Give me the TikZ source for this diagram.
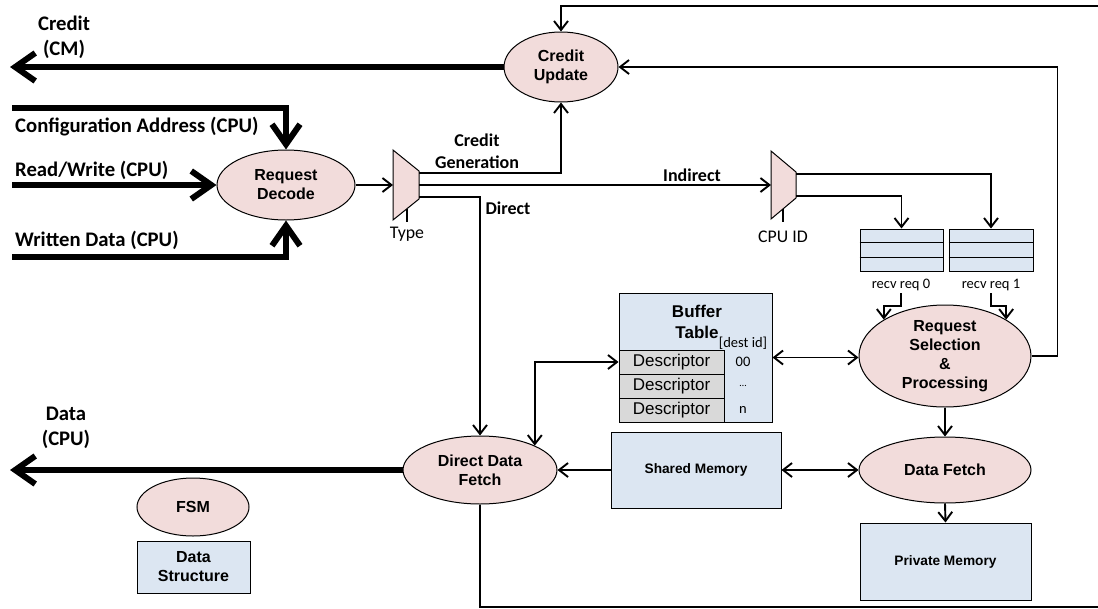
\documentclass[tikz,border=0pt]{standalone}
\usepackage{fontspec}
\setmainfont{Liberation Sans}
\newfontfamily\calfont{Carlito}
\usetikzlibrary{arrows.meta,shapes.geometric,calc}
\definecolor{pinkf}{RGB}{242,220,219}
\definecolor{bluef}{RGB}{220,230,242}
\definecolor{grayf}{RGB}{217,217,217}
\begin{document}
\begin{tikzpicture}[x=1pt,y=-1pt,
 ell/.style={ellipse,draw,fill=pinkf,line width=1pt,inner sep=0pt},
 box/.style={rectangle,draw,fill=bluef,line width=1pt,inner sep=0pt},
 ntext/.style={font=\fontsize{16}{19}\selectfont\bfseries,align=center,inner sep=0pt},
 memtext/.style={font=\fontsize{13.7}{16}\selectfont\bfseries,inner sep=0pt},
 cbl/.style={font=\calfont\fontsize{20.7}{25}\selectfont\bfseries,align=center,inner sep=0pt},
 cmid/.style={font=\calfont\fontsize{18}{22}\selectfont\bfseries,align=center,inner sep=0pt},
 creg/.style={font=\calfont\fontsize{17.8}{20}\selectfont,inner sep=0pt},
 csm/.style={font=\calfont\fontsize{14.5}{17}\selectfont,inner sep=0pt},
 conn/.style={line width=1.9pt,-{Straight Barb[length=9pt,width=14pt]}},
 wire/.style={line width=1.9pt},
 dconn/.style={line width=1.9pt,{Straight Barb[length=9pt,width=14pt]}-{Straight Barb[length=9pt,width=14pt]}},
 fat/.style={line width=6pt,-{Straight Barb[length=20pt,width=28pt]}},
 mux/.style={draw,fill=pinkf,line width=1pt,line join=miter},
 desc/.style={rectangle,draw,fill=grayf,line width=1pt,minimum width=105pt,minimum height=24pt,inner sep=0pt,font=\fontsize{17}{20}\selectfont},
]
\useasboundingbox (0,0) rectangle (1098,608);

% ---------- ellipses ----------
\node[ell,minimum width=114pt,minimum height=70pt] (cu) at (561,67) {};
\node[ntext] (cut) at (cu) {Credit\\Update};
\node[ell,minimum width=138pt,minimum height=70pt] (rd) at (286,185) {};
\node[ntext] (rdt) at (rd) {Request\\Decode};
\node[ell,minimum width=172pt,minimum height=102pt] (rs) at (945,356) {};
\node[ntext] (rst) at (rs) {Request\\Selection\\\&\\Processing};
\node[ell,minimum width=172pt,minimum height=66pt] (df) at (945,470) {};
\node[ntext] (dft) at (df) {Data Fetch};
\node[ell,minimum width=154pt,minimum height=68pt] (ddf) at (480,470) {};
\node[ntext] (ddft) at (ddf) {Direct Data\\Fetch};
\node[ell,minimum width=112pt,minimum height=58pt] (fsm) at (193,507) {};
\node[ntext] (fsmt) at (fsm) {FSM};

% ---------- boxes ----------
\node[box,minimum width=113pt,minimum height=52pt] (ds) at (193.5,567) {};
\node[ntext] (dst) at (ds) {Data\\Structure};
\node[box,minimum width=170pt,minimum height=76pt] (sm) at (696,470) {};
\node[memtext] (smt) at (sm) {Shared Memory};
\node[box,minimum width=171pt,minimum height=77pt] (pm) at (945.5,561.5) {};
\node[memtext] (pmt) at (pm) {Private Memory};

% buffer table
\node[box,minimum width=153pt,minimum height=129pt] (bt) at (695.5,357.5) {};
\node[font=\fontsize{17}{20}\selectfont\bfseries,inner sep=0pt] (btb) at (697,311) {Buffer};
\node[font=\fontsize{17}{20}\selectfont\bfseries,inner sep=0pt] (btt) at (697,332) {Table};
\node[csm] (btd) at (743,343) {[dest id]};
\node[desc] (d1) at (671.5,362) {Descriptor};
\node[desc] (d2) at (671.5,386) {Descriptor};
\node[desc] (d3) at (671.5,410) {Descriptor};
\node[csm] (i1) at (743,362) {00};
\node[csm,font=\calfont\fontsize{10}{12}\selectfont] (i2) at (743,386) {…};
\node[csm] (i3) at (743,410) {n};

% queues
\node[box,minimum width=83pt,minimum height=42pt] (q0) at (901.5,250) {};
\node[box,minimum width=84pt,minimum height=42pt] (q1) at (991,250) {};
\foreach \q in {q0,q1}{
  \draw[line width=1pt] ($(\q.north west)!1/3!(\q.south west)$) -- ($(\q.north east)!1/3!(\q.south east)$);
  \draw[line width=1pt] ($(\q.north west)!2/3!(\q.south west)$) -- ($(\q.north east)!2/3!(\q.south east)$);
}
\node[csm] (q0l) at (901,285) {recv req 0};
\node[csm] (q1l) at (991,285) {recv req 1};

% ---------- muxes ----------
\draw[mux] (393,150) -- (419,171) -- (419,199) -- (393,220) -- cycle;
\coordinate (m1in) at (393,185);
\coordinate (m1a) at (419,173);
\coordinate (m1b) at (419,185);
\coordinate (m1c) at (419,197);
\coordinate (m1s) at (407,208.5);
\draw[wire] (m1s) -- ++(0,13);
\node[creg] (type) at (407,234) {Type};

\draw[mux] (771,151) -- (796,172) -- (796,198) -- (771,219) -- cycle;
\coordinate (m2in) at (771,185);
\coordinate (m2a) at (796,174);
\coordinate (m2b) at (796,196);
\coordinate (m2s) at (783,209);
\draw[wire] (m2s) -- ++(0,13);
\node[creg] (cpuid) at (783,237) {CPU ID};

% ---------- external labels ----------
\node[cbl] (lcm) at (64,37.5) {Credit\\(CM)};
\node[cbl,anchor=west] (lcfg) at (15,127) {Configuration Address (CPU)};
\node[cbl,anchor=west] (lrw) at (15,170) {Read/Write (CPU)};
\node[cbl,anchor=west] (lwd) at (15,240) {Written Data (CPU)};
\node[cmid] (lcg) at (477,151) {Credit\\Generation};
\node[cmid] (lind) at (692,175) {Indirect};
\node[cmid] (ldir) at (508,208) {Direct};
\node[cbl] (ldata) at (66,427.5) {Data\\(CPU)};

% ---------- thick I/O ----------
\coordinate (cmout) at (10,67);
\coordinate (cpuout) at (10,470);
\coordinate (cfg) at (12,108);
\coordinate (rw) at (12,185);
\coordinate (wd) at (12,257);
\draw[fat] (cu.west) -- (cmout);
\draw[fat] (ddf.west) -- (cpuout);
\draw[fat] (cfg) -| (rd.north);
\draw[fat] (rw) -- (rd.west);
\draw[fat] (wd) -| (rd.south);

% ---------- connectors ----------
\draw[conn] (rd.east) -- (m1in);
\draw[conn] (m1a) -| (cu.south);
\draw[conn] (m1b) -- (m2in);
\draw[conn] (m1c) -| (ddf.north);
\draw[conn] (m2b) -| (q0.north);
\draw[conn] (m2a) -| (q1.north);
\draw[conn] (q0l.south) ++(0,2) -- ++(0,13) -| (rs.north west);
\draw[conn] (q1l.south) ++(0,2) -- ++(0,13) -| (rs.north east);
\draw[dconn] (bt.east) -- (bt.east -| rs.west);
\draw[dconn] (ddf.north east) |- (d1.west);
\draw[conn] (sm.west) -- (ddf.east);
\draw[dconn] (sm.east) -- (df.west);
\draw[conn] (rs.south) -- (df.north);
\draw[conn] (df.south) -- (pm.north);
\draw[conn] (rs.east) -- ++(26,0) |- (cu.east);
\coordinate (tr) at (1100,6);
\draw[conn] (tr) -| (cu.north);
\coordinate (br) at (1100,607);
\draw[wire] (ddf.south) |- (br);
\end{tikzpicture}
\end{document}
